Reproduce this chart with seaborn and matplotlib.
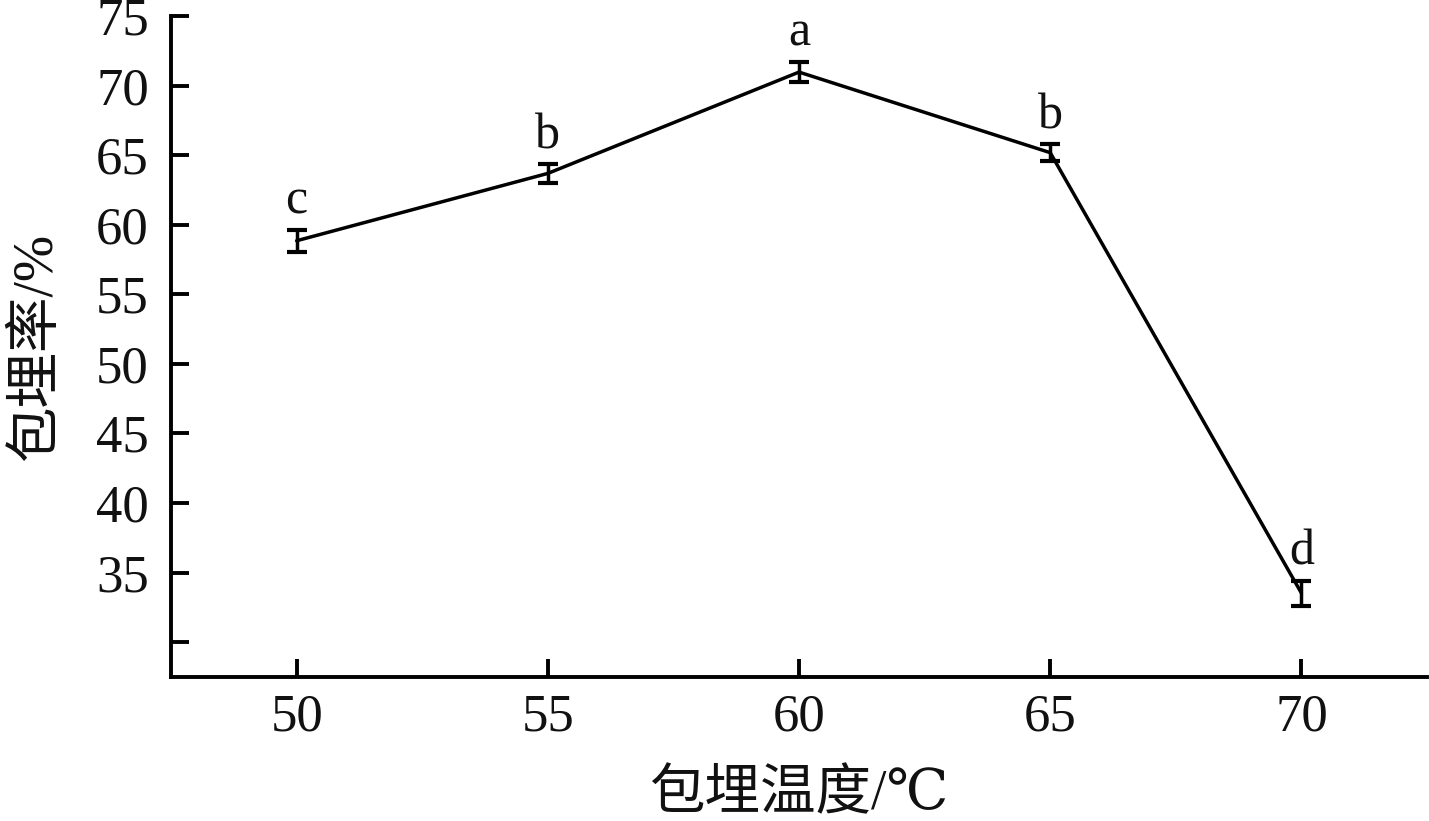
import matplotlib
matplotlib.use("Agg")
import matplotlib.pyplot as plt
import pandas as pd
import seaborn as sns

# data
temperature = [50, 55, 60, 65, 70]
rate = [58.85, 63.69, 70.97, 65.18, 33.53]
rate_err = [0.79, 0.67, 0.74, 0.60, 0.90]
sig_letters = ['c', 'b', 'a', 'b', 'd']
x_ticks = [50, 55, 60, 65, 70]
y_ticks = [30, 35, 40, 45, 50, 55, 60, 65, 70, 75]
y_tick_labels = ['', '35', '40', '45', '50', '55', '60', '65', '70', '75']

df = pd.DataFrame({'temperature': temperature, 'rate': rate, 'err': rate_err})

sns.set_style('ticks')
plt.rcParams['font.family'] = ['Liberation Serif', 'DejaVu Serif', 'Noto Sans CJK SC']

fig = plt.figure(figsize=(14.29, 8.21), dpi=100)
ax = fig.add_axes([0.1197, 0.1754, 0.8789, 0.8051])

sns.lineplot(data=df, x='temperature', y='rate', color='black', linewidth=2.5, ax=ax)
ax.errorbar(df['temperature'], df['rate'], yerr=df['err'], fmt='none', ecolor='black',
            elinewidth=2.5, capsize=7.5, capthick=3.0)

for x, y, e, s in zip(temperature, rate, rate_err, sig_letters):
    ax.annotate(s, (x, y + e), xytext=(0, 11.5), textcoords='offset points',
                ha='center', va='baseline', fontsize=36, color='#111111')

ax.set_xlim(47.5, 72.5)
ax.set_ylim(27.5, 75)
ax.set_xticks(x_ticks)
ax.set_yticks(y_ticks)
ax.set_yticklabels(y_tick_labels)
ax.tick_params(direction='in', length=13, width=2.8, labelsize=38, colors='black',
               labelcolor='#111111')
ax.tick_params(axis='y', pad=16)
ax.tick_params(axis='x', pad=12)
for side in ['top', 'right']:
    ax.spines[side].set_visible(False)
for side in ['left', 'bottom']:
    ax.spines[side].set_linewidth(2.8)
    ax.spines[side].set_color('black')

ax.set_xlabel('包埋温度/℃', fontsize=40, labelpad=20, color='#111111')
ax.set_ylabel('包埋率/%', fontsize=40, labelpad=24, color='#111111')

fig.savefig('out.png', dpi=100, facecolor='white')
